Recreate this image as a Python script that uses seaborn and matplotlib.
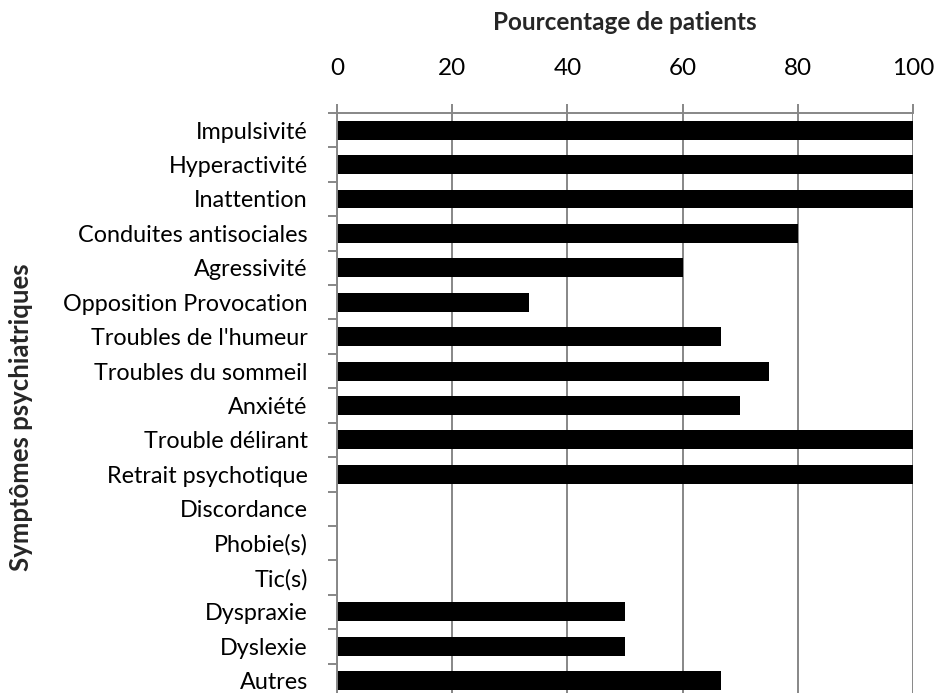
import numpy as np
import pandas as pd
import matplotlib
matplotlib.use("Agg")
import matplotlib.pyplot as plt
import seaborn as sns

# Symptom categories and share of patients presenting each one (%)
symptomes = [
    "Impulsivité", "Hyperactivité", "Inattention", "Conduites antisociales",
    "Agressivité", "Opposition Provocation", "Troubles de l'humeur",
    "Troubles du sommeil", "Anxiété", "Trouble délirant", "Retrait psychotique",
    "Discordance", "Phobie(s)", "Tic(s)", "Dyspraxie", "Dyslexie", "Autres",
]
pourcentages = [100, 100, 100, 80, 60, 33.3, 66.7, 75, 70, 100, 100,
                0, 0, 0, 50, 50, 66.7]
graduations = [0, 20, 40, 60, 80, 100]

df = pd.DataFrame({"Symptôme": symptomes, "Pourcentage": pourcentages})

sns.set_theme(style="white")
plt.rcParams["font.family"] = ["Lato", "DejaVu Sans"]

grey = "#878787"
fig = plt.figure(figsize=(9.36, 6.93), dpi=100)
ax = fig.add_axes([0.360, -0.0072, 0.6154, 0.8442])

sns.barplot(data=df, y="Symptôme", x="Pourcentage", color="black",
            orient="h", width=0.55, saturation=1, linewidth=0, ax=ax)

n = len(symptomes)
ax.set_xlim(0, 100)
ax.set_ylim(n - 0.5, -0.5)
ax.set_xticks(graduations)
ax.set_xticklabels([str(g) for g in graduations])

# Axis on top, vertical grid behind the bars
ax.xaxis.tick_top()
ax.xaxis.set_label_position("top")
ax.set_axisbelow(True)
ax.grid(axis="x", color=grey, linewidth=1.4)
ax.grid(axis="y", visible=False)

for side in ("right", "bottom"):
    ax.spines[side].set_visible(False)
for side in ("left", "top"):
    ax.spines[side].set_color(grey)
    ax.spines[side].set_linewidth(1.4)

ax.tick_params(axis="x", which="major", top=True, direction="out",
               length=6.5, width=1.4, color=grey, pad=18,
               labelsize=17.5, labelcolor="black")
ax.set_yticks(np.arange(-0.5, n, 1), minor=True)
ax.tick_params(axis="y", which="minor", left=True, direction="out",
               length=6.5, width=1.4, color=grey)
ax.tick_params(axis="y", which="major", length=0, pad=21,
               labelsize=16.8, labelcolor="black")

ax.set_xlabel("Pourcentage de patients", fontsize=17.5, fontweight="bold",
              labelpad=20)
ax.set_ylabel("Symptômes psychiatriques", fontsize=18.5, fontweight="bold")
ax.yaxis.set_label_coords(-0.528, 0.48)

fig.savefig("out.png", dpi=100)
